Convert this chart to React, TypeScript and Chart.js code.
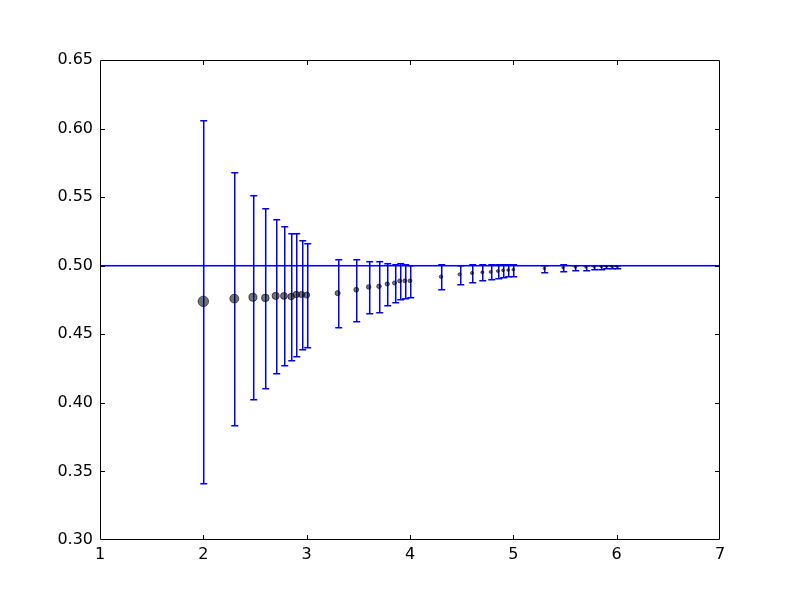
import React, { useEffect, useRef } from "react";
import { Chart, registerables } from "chart.js";

Chart.register(...registerables);

const xValues = [
  2.0, 2.3, 2.48, 2.6, 2.7, 2.78, 2.85, 2.9, 2.95, 3.0,
  3.3, 3.48, 3.6, 3.7, 3.78, 3.85, 3.9, 3.95, 4.0,
  4.3, 4.48, 4.6, 4.7, 4.78, 4.85, 4.9, 4.95, 5.0,
  5.3, 5.48, 5.6, 5.7, 5.78, 5.85, 5.9, 5.95, 6.0,
];
const means = [
  0.474, 0.476, 0.477, 0.4765, 0.478, 0.478, 0.4775, 0.479, 0.479, 0.4786,
  0.48, 0.4825, 0.4845, 0.485, 0.4867, 0.4874, 0.4889, 0.489, 0.489,
  0.492, 0.4937, 0.4947, 0.4952, 0.4955, 0.4961, 0.4966, 0.4968, 0.4971,
  0.498, 0.4985, 0.4988, 0.499, 0.4992, 0.4993, 0.4994, 0.4995, 0.4995,
];
const errors = [
  0.1325, 0.092, 0.0744, 0.0655, 0.0563, 0.0507, 0.046, 0.0445, 0.04, 0.038,
  0.025, 0.0225, 0.019, 0.0185, 0.0155, 0.0138, 0.013, 0.0125, 0.0118,
  0.009, 0.007, 0.0065, 0.0058, 0.0054, 0.005, 0.0046, 0.0045, 0.0044,
  0.0028, 0.0025, 0.002, 0.0018, 0.0016, 0.0015, 0.0014, 0.0013, 0.0012,
];
const referenceValue = 0.5;
const xRange = [1, 7];
const yRange = [0.3, 0.65];

const FONT = "'DejaVu Sans', sans-serif";
const BLUE = "rgb(0,0,255)";

const errorBarPlugin = {
  id: "errorBars",
  beforeDatasetsDraw(chart: any) {
    const { ctx, scales, chartArea } = chart;
    const xs = scales.x;
    const ys = scales.y;
    ctx.save();
    ctx.beginPath();
    ctx.rect(chartArea.left, chartArea.top, chartArea.right - chartArea.left, chartArea.bottom - chartArea.top);
    ctx.clip();
    ctx.lineWidth = 1.5;
    ctx.strokeStyle = BLUE;
    xValues.forEach((xv, i) => {
      const px = Math.round(xs.getPixelForValue(xv)) + 0.75;
      const top = Math.round(ys.getPixelForValue(means[i] + errors[i])) + 0.75;
      const bot = Math.round(ys.getPixelForValue(means[i] - errors[i])) + 0.75;
      ctx.beginPath();
      ctx.moveTo(px, top);
      ctx.lineTo(px, bot);
      ctx.moveTo(px - 3.5, top);
      ctx.lineTo(px + 3.5, top);
      ctx.moveTo(px - 3.5, bot);
      ctx.lineTo(px + 3.5, bot);
      ctx.stroke();
    });
    ctx.restore();
  },
  afterDraw(chart: any) {
    const { ctx, scales, chartArea } = chart;
    const { left, right, top, bottom } = chartArea;
    ctx.save();
    ctx.strokeStyle = "#000";
    ctx.lineWidth = 1;
    ctx.beginPath();
    ctx.rect(left + 0.5, top + 0.5, right - left - 1, bottom - top - 1);
    ctx.stroke();
    const tl = 5;
    ctx.beginPath();
    scales.x.ticks.forEach((t: any) => {
      if (t.value <= xRange[0] || t.value >= xRange[1]) return;
      const px = Math.round(scales.x.getPixelForValue(t.value)) + 0.5;
      ctx.moveTo(px, bottom);
      ctx.lineTo(px, bottom - tl);
      ctx.moveTo(px, top);
      ctx.lineTo(px, top + tl);
    });
    scales.y.ticks.forEach((t: any) => {
      if (t.value <= yRange[0] + 1e-9 || t.value >= yRange[1] - 1e-9) return;
      const py = Math.round(scales.y.getPixelForValue(t.value)) + 0.5;
      ctx.moveTo(left, py);
      ctx.lineTo(left + tl, py);
      ctx.moveTo(right, py);
      ctx.lineTo(right - tl, py);
    });
    ctx.stroke();
    ctx.restore();
  },
};

export default function App() {
  const canvasRef = useRef<HTMLCanvasElement | null>(null);

  useEffect(() => {
    document.body.style.margin = "0";
    const canvas = canvasRef.current;
    if (!canvas) return;
    const points = xValues.map((x, i) => ({ x, y: means[i] }));
    const radii = errors.map((e) => 0.5 + 13 * Math.sqrt(e));
    const chart = new Chart(canvas, {
      type: "scatter",
      data: {
        datasets: [
          {
            type: "line",
            data: [
              { x: xRange[0], y: referenceValue },
              { x: xRange[1], y: referenceValue },
            ],
            borderColor: BLUE,
            borderWidth: 1.5,
            pointRadius: 0,
            order: 2,
          } as any,
          {
            data: points,
            backgroundColor: "rgba(0,0,0,0.55)",
            borderColor: "rgba(0,0,0,0.6)",
            borderWidth: 1,
            pointRadius: radii,
            order: 1,
          },
        ],
      },
      options: {
        responsive: false,
        animation: false,
        devicePixelRatio: 1,
        layout: { padding: { left: 0, right: 80, top: 60, bottom: 0 } },
        plugins: { legend: { display: false }, tooltip: { enabled: false } },
        scales: {
          x: {
            type: "linear",
            min: xRange[0],
            max: xRange[1],
            grid: { display: false, drawTicks: false },
            border: { display: false },
            ticks: {
              stepSize: 1,
              color: "#000",
              padding: 5,
              font: { family: FONT, size: 16 },
              callback: (v: any) => String(v),
            },
            afterFit: (s: any) => {
              s.height = 60;
            },
          },
          y: {
            type: "linear",
            min: yRange[0],
            max: yRange[1],
            grid: { display: false, drawTicks: false },
            border: { display: false },
            ticks: {
              stepSize: 0.05,
              color: "#000",
              padding: 7,
              font: { family: FONT, size: 16 },
              callback: (v: any) => Number(v).toFixed(2),
            },
            afterFit: (s: any) => {
              s.width = 100;
            },
          },
        },
      },
      plugins: [errorBarPlugin],
    });
    return () => chart.destroy();
  }, []);

  return <canvas ref={canvasRef} width={800} height={600} style={{ display: "block" }} />;
}
